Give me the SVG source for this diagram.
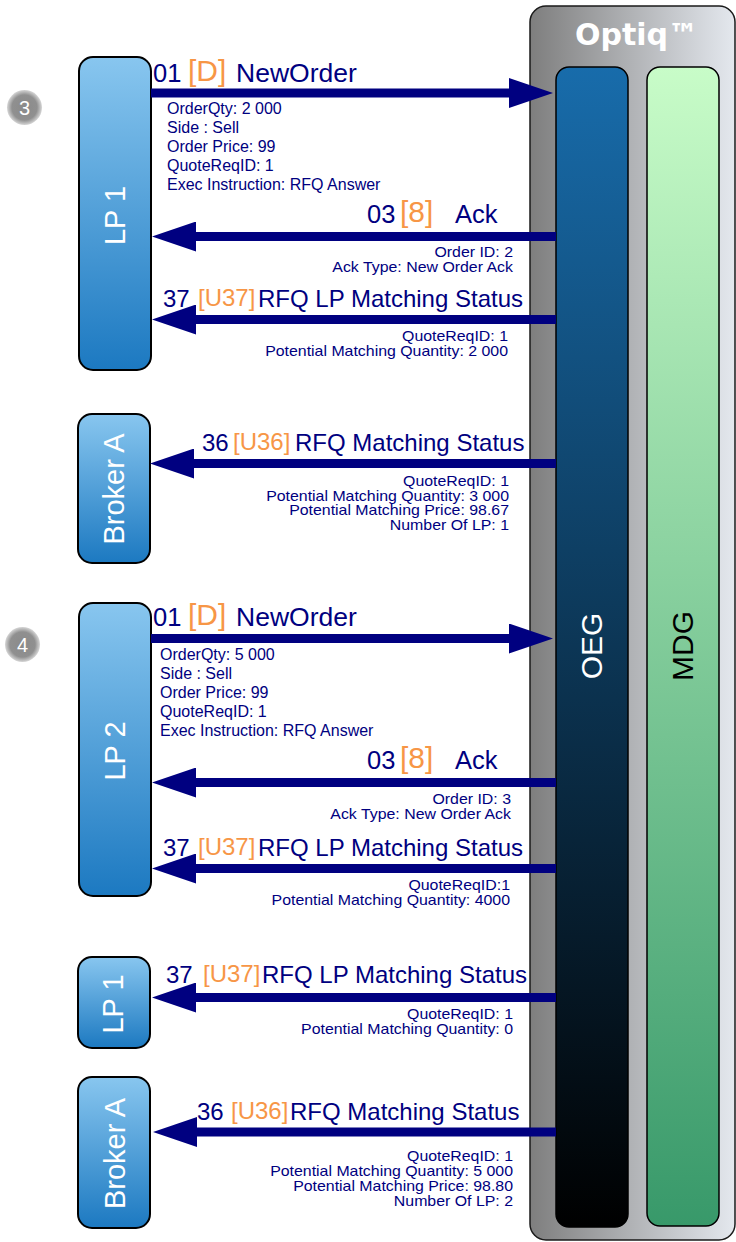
<svg xmlns="http://www.w3.org/2000/svg" width="736" height="1242" viewBox="0 0 736 1242">
<defs>
<linearGradient id="gOptiq" x1="0" y1="0" x2="1" y2="0">
<stop offset="0" stop-color="#7e7e7e"/>
<stop offset="1" stop-color="#e4e8ee"/>
</linearGradient>
<linearGradient id="gOEG" x1="0" y1="0" x2="0" y2="1">
<stop offset="0" stop-color="#186cab"/>
<stop offset="1" stop-color="#000000"/>
</linearGradient>
<linearGradient id="gMDG" x1="0" y1="0" x2="0" y2="1">
<stop offset="0" stop-color="#c8fcc8"/>
<stop offset="1" stop-color="#38996a"/>
</linearGradient>
<linearGradient id="gNode" x1="0" y1="0" x2="0" y2="1">
<stop offset="0" stop-color="#88c6ef"/>
<stop offset="1" stop-color="#1c79c1"/>
</linearGradient>
<radialGradient id="gStep" cx="0.5" cy="0.5" r="0.5">
<stop offset="0" stop-color="#8a8a8a"/>
<stop offset="0.72" stop-color="#909090"/>
<stop offset="1" stop-color="#d6d6d6"/>
</radialGradient>
<marker id="ah" markerUnits="userSpaceOnUse" markerWidth="46" markerHeight="30" viewBox="0 0 46 30" refX="16" refY="15" orient="auto">
<path d="M0,0 L44,15 L0,30 z" fill="#000080"/>
</marker>
</defs>
<style>
.node{fill:url(#gNode);stroke:#000;stroke-width:2}
.nlbl{font-family:"Liberation Sans",Arial,sans-serif;font-size:29px;fill:#fff;text-anchor:middle}
.conn{stroke:#000080;stroke-width:9;fill:none;marker-end:url(#ah)}
.lbl{font-family:"Liberation Sans",Arial,sans-serif;fill:#000080}
.m{font-size:25.5px}
.n{font-size:26.5px}
.r{font-size:24px}
.o{fill:#f79646}
.ob{font-size:30px}
.det{font-family:"Liberation Sans",Arial,sans-serif;font-size:16px;fill:#000080}
.rd{font-family:"Liberation Sans",Arial,sans-serif;font-size:14px;fill:#000080;text-anchor:end}
.step{fill:url(#gStep)}
.stxt{font-family:"Liberation Sans",Arial,sans-serif;font-size:20px;fill:#fff;text-anchor:middle}
</style>
<rect width="736" height="1242" fill="#fff"/>

<g id="optiq">
<rect x="530" y="6" width="205" height="1234" rx="16" fill="url(#gOptiq)" stroke="#1a1a1a" stroke-width="1.5"/>
<text x="636.5" y="45" font-family="DejaVu Sans,Verdana,sans-serif" font-weight="bold" font-size="30" fill="#fff" text-anchor="middle">Optiq™</text>
</g>
<g id="oeg">
<rect x="556" y="67" width="72" height="1160" rx="13" fill="url(#gOEG)" stroke="#000" stroke-width="1.5"/>
<text transform="translate(602,646) rotate(-90)" font-family="Liberation Sans,Arial,sans-serif" font-size="30" fill="#fff" text-anchor="middle">OEG</text>
</g>
<g id="mdg">
<rect x="647" y="67" width="72" height="1159" rx="13" fill="url(#gMDG)" stroke="#000" stroke-width="1.5"/>
<text transform="translate(693,646) rotate(-90)" font-family="Liberation Sans,Arial,sans-serif" font-size="30" fill="#000" text-anchor="middle">MDG</text>
</g>

<g id="step3"><circle class="step" cx="24.5" cy="107.5" r="17.5"/><text class="stxt" x="24.5" y="114.5">3</text></g>
<g id="step4"><circle class="step" cx="22.5" cy="644.5" r="17.5"/><text class="stxt" x="22.5" y="651.5">4</text></g>

<g id="lp1">
<rect class="node" x="79" y="57" width="72" height="313" rx="14"/>
<text class="nlbl" transform="translate(125,215.5) rotate(-90)">LP 1</text>
</g>
<g id="brokerA1">
<rect class="node" x="78" y="414" width="72" height="149" rx="14"/>
<text class="nlbl" transform="translate(124,489) rotate(-90)">Broker A</text>
</g>
<g id="lp2">
<rect class="node" x="79" y="603" width="72" height="293" rx="14"/>
<text class="nlbl" transform="translate(125,751) rotate(-90)">LP 2</text>
</g>
<g id="lp1b">
<rect class="node" x="78" y="957" width="72" height="91" rx="14"/>
<text class="nlbl" transform="translate(123,1004) rotate(-90)">LP 1</text>
</g>
<g id="brokerA2">
<rect class="node" x="78" y="1077" width="72" height="151" rx="14"/>
<text class="nlbl" transform="translate(125,1153.5) rotate(-90)">Broker A</text>
</g>

<g id="connectors">
<path class="conn" d="M151,93 H525"/>
<path class="conn" d="M556,236.5 H180"/>
<path class="conn" d="M556,319.5 H180"/>
<path class="conn" d="M556,463.5 H178"/>
<path class="conn" d="M151,638.5 H525"/>
<path class="conn" d="M556,782.5 H180"/>
<path class="conn" d="M556,868.5 H180"/>
<path class="conn" d="M556,997.5 H180"/>
<path class="conn" d="M556,1132 H181"/>
</g>

<g id="labels">
<text class="lbl m" x="153" y="81.5">01</text>
<text class="lbl o ob" x="188" y="80.5">[D]</text>
<text class="lbl n" x="236" y="81.5">NewOrder</text>
<text class="det" x="167" y="114">OrderQty: 2 000</text>
<text class="det" x="167" y="133">Side : Sell</text>
<text class="det" x="167" y="152">Order Price: 99</text>
<text class="det" x="167" y="171">QuoteReqID: 1</text>
<text class="det" x="167" y="189.5">Exec Instruction: RFQ Answer</text>

<text class="lbl m" x="367" y="223">03</text>
<text class="lbl o ob" x="400" y="222">[8]</text>
<text class="lbl m" x="455" y="223">Ack</text>
<g transform="matrix(1.135,0,0,1,-69.255,0)">
<text class="rd" x="513" y="257">Order ID: 2</text>
<text class="rd" x="513" y="272">Ack Type: New Order Ack</text>
</g>

<text class="lbl r" x="163" y="307">37</text>
<text class="lbl o r" x="198" y="306">[U37]</text>
<text class="lbl r" x="258" y="307">RFQ LP Matching Status</text>
<g transform="matrix(1.135,0,0,1,-68.58,0)">
<text class="rd" x="508" y="341.5">QuoteReqID: 1</text>
<text class="rd" x="508" y="356.5">Potential Matching Quantity: 2 000</text>
</g>

<text class="lbl r" x="202" y="451">36</text>
<text class="lbl o r" x="233" y="450">[U36]</text>
<text class="lbl r" x="295" y="451">RFQ Matching Status</text>
<g transform="matrix(1.135,0,0,1,-68.715,0)">
<text class="rd" x="509" y="486">QuoteReqID: 1</text>
<text class="rd" x="509" y="501">Potential Matching Quantity: 3 000</text>
<text class="rd" x="509" y="515.5">Potential Matching Price: 98.67</text>
<text class="rd" x="509" y="530.5">Number Of LP: 1</text>
</g>

<text class="lbl m" x="153" y="626">01</text>
<text class="lbl o ob" x="188" y="625">[D]</text>
<text class="lbl n" x="236" y="626">NewOrder</text>
<text class="det" x="160" y="660">OrderQty: 5 000</text>
<text class="det" x="160" y="679">Side : Sell</text>
<text class="det" x="160" y="698">Order Price: 99</text>
<text class="det" x="160" y="717">QuoteReqID: 1</text>
<text class="det" x="160" y="736">Exec Instruction: RFQ Answer</text>

<text class="lbl m" x="367" y="769">03</text>
<text class="lbl o ob" x="400" y="768">[8]</text>
<text class="lbl m" x="455" y="769">Ack</text>
<g transform="matrix(1.135,0,0,1,-68.985,0)">
<text class="rd" x="511" y="804">Order ID: 3</text>
<text class="rd" x="511" y="819">Ack Type: New Order Ack</text>
</g>

<text class="lbl r" x="163" y="856">37</text>
<text class="lbl o r" x="198" y="855">[U37]</text>
<text class="lbl r" x="258" y="856">RFQ LP Matching Status</text>
<g transform="matrix(1.135,0,0,1,-68.85,0)">
<text class="rd" x="510" y="890">QuoteReqID:1</text>
<text class="rd" x="510" y="905.5">Potential Matching Quantity: 4000</text>
</g>

<text class="lbl r" x="166" y="983">37</text>
<text class="lbl o r" x="203" y="982">[U37]</text>
<text class="lbl r" x="262" y="983">RFQ LP Matching Status</text>
<g transform="matrix(1.135,0,0,1,-69.255,0)">
<text class="rd" x="513" y="1019">QuoteReqID: 1</text>
<text class="rd" x="513" y="1034">Potential Matching Quantity: 0</text>
</g>

<text class="lbl r" x="197" y="1120">36</text>
<text class="lbl o r" x="231" y="1119">[U36]</text>
<text class="lbl r" x="290" y="1120">RFQ Matching Status</text>
<g transform="matrix(1.135,0,0,1,-69.255,0)">
<text class="rd" x="513" y="1161">QuoteReqID: 1</text>
<text class="rd" x="513" y="1176">Potential Matching Quantity: 5 000</text>
<text class="rd" x="513" y="1191">Potential Matching Price: 98.80</text>
<text class="rd" x="513" y="1206">Number Of LP: 2</text>
</g>
</g>
</svg>
